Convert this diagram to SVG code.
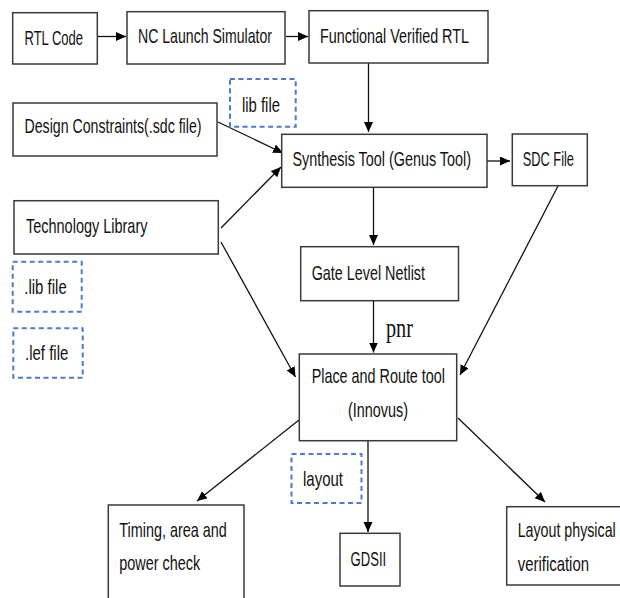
<svg xmlns="http://www.w3.org/2000/svg" width="620" height="598" viewBox="0 0 620 598">
<style>
.box{fill:#fff;stroke:#3a3a3a;stroke-width:1.5}
.dash{fill:none;stroke:#4a7bd0;stroke-width:2;stroke-dasharray:5 3.5}
.t{font-family:"Liberation Sans",Arial,sans-serif;font-size:20px;fill:#111}
.s{font-family:"Liberation Serif","Times New Roman",serif;font-size:28px;fill:#111}
.c{fill:none;stroke:#111;stroke-width:1.3}
</style>
<defs>
<marker id="ah" markerUnits="userSpaceOnUse" markerWidth="11" markerHeight="10" refX="10" refY="4.5" orient="auto">
<path d="M0,0 L10,4.5 L0,9 Z" fill="#000"/>
</marker>
</defs>
<rect width="620" height="598" fill="#fff"/>
<g id="connectors">
<line class="c" x1="98" y1="36.5" x2="126" y2="36.5" marker-end="url(#ah)"/>
<line class="c" x1="286" y1="36.5" x2="308" y2="36.5" marker-end="url(#ah)"/>
<line class="c" x1="368.5" y1="63" x2="368.5" y2="132" marker-end="url(#ah)"/>
<line class="c" x1="218" y1="122" x2="283" y2="153" marker-end="url(#ah)"/>
<line class="c" x1="221" y1="228" x2="281" y2="167" marker-end="url(#ah)"/>
<line class="c" x1="487" y1="161" x2="510" y2="161" marker-end="url(#ah)"/>
<line class="c" x1="373.5" y1="187.5" x2="373.5" y2="245" marker-end="url(#ah)"/>
<line class="c" x1="558" y1="186" x2="460" y2="375" marker-end="url(#ah)"/>
<line class="c" x1="221" y1="242" x2="295.5" y2="377" marker-end="url(#ah)"/>
<line class="c" x1="373.5" y1="301" x2="373.5" y2="352.5" marker-end="url(#ah)"/>
<line class="c" x1="299" y1="420" x2="197" y2="501" marker-end="url(#ah)"/>
<line class="c" x1="368" y1="441" x2="368" y2="532" marker-end="url(#ah)"/>
<line class="c" x1="458" y1="418" x2="545" y2="502" marker-end="url(#ah)"/>
<text class="s" transform="scale(0.72 1)" x="536.11" y="336.7" textLength="37.5" lengthAdjust="spacingAndGlyphs">pnr</text>
</g>
<g id="rtl-code"><rect class="box" x="12.7" y="12.7" width="84.6" height="51.3"/><text class="t" transform="scale(0.72 1)" x="34.03" y="45.5" textLength="81.25" lengthAdjust="spacingAndGlyphs">RTL Code</text></g>
<g id="nc-launch"><rect class="box" x="127" y="11.7" width="158" height="52.3"/><text class="t" transform="scale(0.72 1)" x="191.67" y="43.5" textLength="186.11" lengthAdjust="spacingAndGlyphs">NC Launch Simulator</text></g>
<g id="functional-rtl"><rect class="box" x="309" y="10.7" width="179" height="52.3"/><text class="t" transform="scale(0.72 1)" x="444.44" y="43.5" textLength="206.94" lengthAdjust="spacingAndGlyphs">Functional Verified RTL</text></g>
<g id="lib-file-top"><rect class="dash" x="230" y="79" width="65.7" height="47.7"/><text class="t" transform="scale(0.72 1)" x="336.11" y="112" textLength="52.78" lengthAdjust="spacingAndGlyphs">lib file</text></g>
<g id="design-constraints"><rect class="box" x="13" y="103" width="204" height="53"/><text class="t" transform="scale(0.72 1)" x="34.03" y="133.5" textLength="245.83" lengthAdjust="spacingAndGlyphs">Design Constraints(.sdc file)</text></g>
<g id="synthesis"><rect class="box" x="281.7" y="134.3" width="205.3" height="53"/><text class="t" transform="scale(0.72 1)" x="406.25" y="166.5" textLength="247.92" lengthAdjust="spacingAndGlyphs">Synthesis Tool (Genus Tool)</text></g>
<g id="sdc-file"><rect class="box" x="512.3" y="134" width="75" height="51.7"/><text class="t" transform="scale(0.72 1)" x="725.97" y="166.5" textLength="71.25" lengthAdjust="spacingAndGlyphs">SDC File</text></g>
<g id="tech-library"><rect class="box" x="14" y="200.7" width="204.3" height="53.3"/><text class="t" transform="scale(0.72 1)" x="36.11" y="233" textLength="168.75" lengthAdjust="spacingAndGlyphs">Technology Library</text></g>
<g id="lib-file"><rect class="dash" x="12.7" y="261.7" width="69" height="50"/><text class="t" transform="scale(0.72 1)" x="33.75" y="294.5" textLength="58.89" lengthAdjust="spacingAndGlyphs">.lib file</text></g>
<g id="lef-file"><rect class="dash" x="13.3" y="328.3" width="69.4" height="49.4"/><text class="t" transform="scale(0.72 1)" x="34.72" y="360" textLength="60.14" lengthAdjust="spacingAndGlyphs">.lef file</text></g>
<g id="gate-netlist"><rect class="box" x="300.7" y="246.7" width="157.8" height="54"/><text class="t" transform="scale(0.72 1)" x="432.92" y="280" textLength="157.36" lengthAdjust="spacingAndGlyphs">Gate Level Netlist</text></g>
<g id="place-route"><rect class="box" x="299.3" y="354" width="157.4" height="86.7"/><text class="t" transform="scale(0.72 1)" x="432.92" y="383.5" textLength="185.14" lengthAdjust="spacingAndGlyphs">Place and Route tool</text><text class="t" transform="scale(0.72 1)" x="483.33" y="417" textLength="83.33" lengthAdjust="spacingAndGlyphs">(Innovus)</text></g>
<g id="layout-label"><rect class="dash" x="291.5" y="454" width="70" height="49"/><text class="t" transform="scale(0.72 1)" x="420.83" y="486" textLength="55.56" lengthAdjust="spacingAndGlyphs">layout</text></g>
<g id="timing"><rect class="box" x="108.3" y="505" width="135.7" height="100"/><text class="t" transform="scale(0.72 1)" x="165.69" y="537" textLength="149.17" lengthAdjust="spacingAndGlyphs">Timing, area and</text><text class="t" transform="scale(0.72 1)" x="165.69" y="570.5" textLength="112.5" lengthAdjust="spacingAndGlyphs">power check</text></g>
<g id="gdsii"><rect class="box" x="340" y="533.3" width="60" height="52.7"/><text class="t" transform="scale(0.72 1)" x="486.94" y="566" textLength="49.44" lengthAdjust="spacingAndGlyphs">GDSII</text></g>
<g id="layout-verification"><rect class="box" x="506.7" y="506.7" width="120" height="78.3"/><text class="t" transform="scale(0.72 1)" x="719.03" y="537.5" textLength="136.11" lengthAdjust="spacingAndGlyphs">Layout physical</text><text class="t" transform="scale(0.72 1)" x="719.03" y="571.5" textLength="99.03" lengthAdjust="spacingAndGlyphs">verification</text></g>
</svg>
